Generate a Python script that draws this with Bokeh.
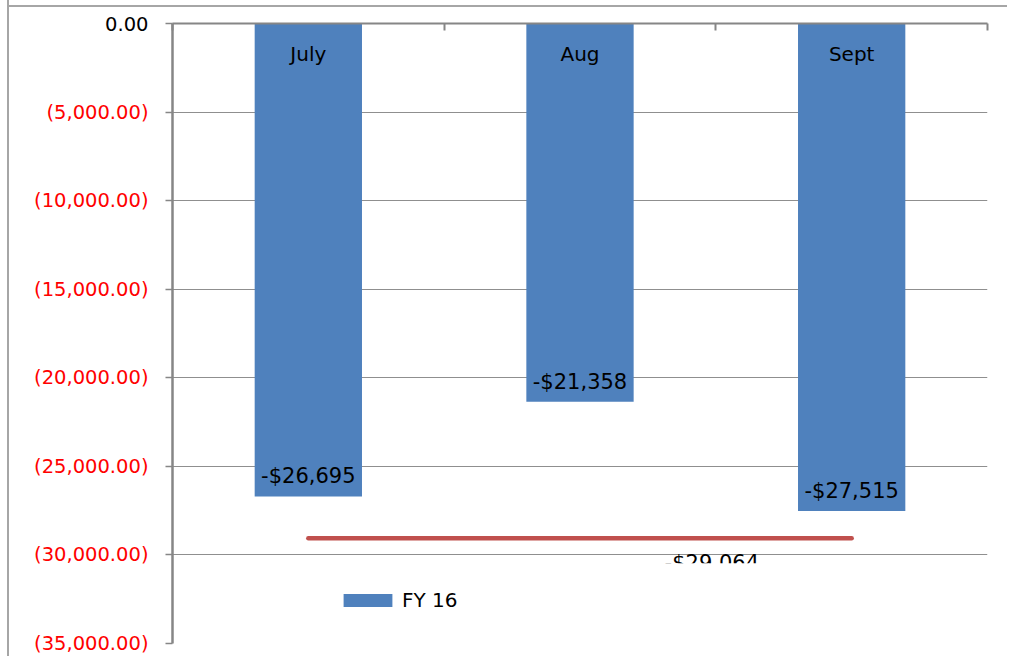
from bokeh.plotting import figure
from bokeh.models import (Range1d, FixedTicker, LinearAxis, Grid, CustomJSTickFormatter,
                          Label, Legend, LegendItem, ColumnDataSource)
from bokeh.core.properties import value
from bokeh.embed import file_html
from bokeh.resources import INLINE

# Monthly results, FY 16 (dollars)
months = ["July", "Aug", "Sept"]
fy16 = [-26695, -21358, -27515]
average = -29064
series_name = "FY 16"
y_ticks = [0, -5000, -10000, -15000, -20000, -25000, -30000, -35000]

FONT = "DejaVu Sans"
BAR_BLUE = "#4F81BD"
LINE_RED = "#C0504D"
AXIS_GREY = "#868686"
GRID_GREY = "#8F8F8F"
FRAME_GREY = "#A6A6A6"
TICK_FONT_SIZE = "19.5px"

# page geometry of the chart area
PAGE_W, PAGE_H = 1009, 656
HOST_LEFT = 9            # left frame line (7px margin + 2px border)
PLOT_LEFT, PLOT_RIGHT, PLOT_TOP, PLOT_BOTTOM = 172, 987, 23, 643


def money(v):
    return ("-$" if v < 0 else "$") + f"{abs(v):,}"


# one slot per month on a numeric x scale: bar centres at 0.5, 1.5, ...
xs = [i + 0.5 for i in range(len(months))]
src = ColumnDataSource(dict(x=xs, top=fy16, month=months,
                            label=[money(v) for v in fy16]))

p = figure(width=PAGE_W - HOST_LEFT, height=PAGE_H,
           x_range=Range1d(0, len(months)), y_range=Range1d(min(y_ticks), 0),
           x_axis_location=None, y_axis_location=None,
           min_border_left=PLOT_LEFT - HOST_LEFT, min_border_right=PAGE_W - PLOT_RIGHT,
           min_border_top=PLOT_TOP, min_border_bottom=PAGE_H - PLOT_BOTTOM,
           output_backend="svg", toolbar_location=None)
p.outline_line_color = None
p.grid.visible = False
p.background_fill_color = "white"
p.border_fill_alpha = 0
# chart-area frame lines along the left and top edges
p.styles = {
    "margin-left": "7px",
    "border-left": f"2px solid {FRAME_GREY}",
    "background": (f"linear-gradient(to bottom, white 0px, white 5px, "
                   f"{FRAME_GREY} 5px, {FRAME_GREY} 7px, white 7px, white 100%)"),
}

# value axis: negatives in red, accounting style; zero gets its own black label
neg_ticks = [t for t in y_ticks if t < 0]
zero_ticks = [t for t in y_ticks if t == 0]
yaxis = LinearAxis(
    ticker=FixedTicker(ticks=neg_ticks, minor_ticks=zero_ticks),
    formatter=CustomJSTickFormatter(code="""
        const s = Math.abs(tick).toLocaleString('en-US',
            {minimumFractionDigits: 2, maximumFractionDigits: 2});
        return tick < 0 ? "(" + s + ")" : s;
    """),
    major_tick_out=7, major_tick_in=0, minor_tick_out=7, minor_tick_in=0,
    axis_line_color=AXIS_GREY, axis_line_width=2.5,
    major_tick_line_color=AXIS_GREY, major_tick_line_width=1.5,
    minor_tick_line_color=AXIS_GREY, minor_tick_line_width=1.5,
    major_label_text_color="#FF0000", major_label_text_font=FONT,
    major_label_text_font_size=TICK_FONT_SIZE, major_label_standoff=17)
p.add_layout(yaxis, "left")

# category axis sits at zero along the top, ticks between the months
xaxis = LinearAxis(
    ticker=FixedTicker(ticks=[], minor_ticks=list(range(len(months) + 1))),
    major_tick_in=0, major_tick_out=0, minor_tick_in=7, minor_tick_out=0,
    major_label_standoff=0,
    axis_line_color=AXIS_GREY, axis_line_width=2,
    minor_tick_line_color=AXIS_GREY, minor_tick_line_width=2)
p.add_layout(xaxis, "above")

p.add_layout(Label(x=0, y=zero_ticks[0], x_offset=-24, text="0.00",
                   text_align="right", text_baseline="middle",
                   text_color="black", text_font=FONT,
                   text_font_size=TICK_FONT_SIZE), "above")

p.add_layout(Grid(dimension=1, ticker=FixedTicker(ticks=y_ticks),
                  grid_line_color=GRID_GREY, grid_line_width=1))

bars = p.vbar(x="x", top="top", bottom=0, width=0.395, source=src,
              fill_color=BAR_BLUE, line_color=None)

# month names just under the zero line
p.text(x="x", y=0, text="month", source=src, y_offset=30,
       text_align="center", text_baseline="alphabetic", text_color="black",
       text_font=value(FONT), text_font_size="20px")

# values at the inner end of each bar
p.text(x="x", y="top", text="label", source=src, y_offset=-20,
       text_align="center", text_baseline="alphabetic", text_color="black",
       text_font=value(FONT), text_font_size="21px")

# average line across the months
p.line(x=[xs[0], xs[-1]], y=[average, average], line_color=LINE_RED,
       line_width=4.5, line_cap="round")

avg_x = len(months) - 1
p.text(x=[avg_x], y=[average], text=[money(average)], x_offset=-4, y_offset=25,
       text_align="center", text_baseline="alphabetic", text_color="black",
       text_font=value(FONT), text_font_size="21px")
# the label box is cut off along its lower edge
p.text(x=[avg_x], y=[average], text=[money(average)], x_offset=-4, y_offset=25,
       text_align="center", text_baseline="top", text_color="white",
       background_fill_color="white", padding=4,
       text_font=value(FONT), text_font_size="21px")

legend = Legend(items=[LegendItem(label=series_name, renderers=[bars])],
                location=(165, 31), padding=0, margin=0, spacing=0,
                border_line_color=None, background_fill_alpha=0,
                glyph_width=61, glyph_height=16, label_height=16,
                label_standoff=4, label_text_font=FONT,
                label_text_color="black", label_text_font_size="20px")
p.add_layout(legend)

open("out.html", "w").write(file_html(p, INLINE))
